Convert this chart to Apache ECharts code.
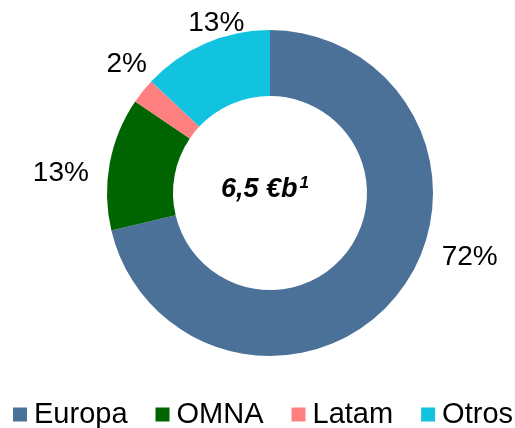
<!DOCTYPE html>
<html>
<head>
<meta charset="utf-8">
<script src="https://cdn.jsdelivr.net/npm/echarts@6/dist/echarts.min.js"></script>
<style>
  html, body { margin: 0; padding: 0; background: #fff; }
  #chart { width: 515px; height: 428px; }
</style>
</head>
<body>
<div id="chart"></div>
<script>
// regions and their share of the 6,5 €b total
var regions = ['Europa', 'OMNA', 'Latam', 'Otros']
var shares = [71.3, 13.2, 2.5, 13.0]
var shareLabels = ['72%', '13%', '2%', '13%']
var colors = ['#4B7199', '#006400', '#FF8080', '#12C3E0']

// small shifts so the labels sit where the original put them
var labelNudge = [
  { dx: 31, dy: -43 },
  { dx: -6, dy: 12 },
  { dx: 17, dy: -21 },
  { dx: 48, dy: -11 }
]

var chartDom = document.getElementById('chart')
var myChart = echarts.init(chartDom)
var font = '"Liberation Sans", Arial, sans-serif'

var pieData = []
for (let i = 0; i < regions.length; i++) {
  pieData.push({
    name: regions[i],
    value: shares[i],
    itemStyle: { color: colors[i] },
    label: { formatter: shareLabels[i] }
  })
}

var option = {
  animation: false,
  legend: {
    data: regions,
    left: 13,
    top: 400,
    width: 502,
    padding: 0,
    icon: 'rect',
    itemWidth: 14,
    itemHeight: 14,
    itemGap: 28,
    textStyle: {
      fontFamily: font,
      fontSize: 29,
      color: '#000',
      padding: [0, 0, 0, 2]
    }
  },
  graphic: [
    {
      type: 'text',
      x: 265,
      y: 190,
      style: {
        text: '{a|6,5 €b}{s|1}',
        textAlign: 'center',
        textVerticalAlign: 'middle',
        rich: {
          a: {
            fontFamily: font,
            fontSize: 27,
            fontWeight: 'bold',
            fontStyle: 'italic',
            color: '#000',
            lineHeight: 30
          },
          s: {
            fontFamily: font,
            fontSize: 17,
            fontWeight: 'bold',
            fontStyle: 'italic',
            color: '#000',
            verticalAlign: 'top',
            padding: [0, 0, 0, 2]
          }
        }
      }
    }
  ],
  series: [
    {
      type: 'pie',
      center: [270, 193],
      radius: [97, 163],
      startAngle: 90,
      clockwise: true,
      avoidLabelOverlap: false,
      label: {
        show: true,
        position: 'outside',
        fontFamily: font,
        fontSize: 28,
        color: '#000'
      },
      labelLine: {
        show: false,
        length: 10,
        length2: 0
      },
      labelLayout: function (params) {
        return labelNudge[params.dataIndex]
      },
      emphasis: { disabled: true },
      data: pieData
    }
  ]
}
option && myChart.setOption(option)
</script>
</body>
</html>
